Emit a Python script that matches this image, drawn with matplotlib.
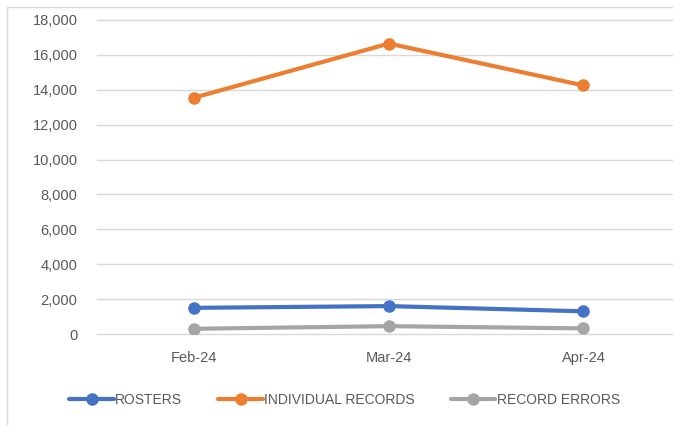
import matplotlib.pyplot as plt
from matplotlib.patches import Rectangle

months = ["Feb-24", "Mar-24", "Apr-24"]
rosters = [1500, 1600, 1300]
individual_records = [13550, 16650, 14250]
record_errors = [300, 450, 320]

series = [
    ("ROSTERS", rosters, "#4472C4"),
    ("INDIVIDUAL RECORDS", individual_records, "#ED7D31"),
    ("RECORD ERRORS", record_errors, "#A5A5A5"),
]

plt.rcParams["font.family"] = ["Liberation Sans", "DejaVu Sans"]
text_color = "#595959"

fig = plt.figure(figsize=(6.73, 4.25), dpi=100)
# chart frame (left and top edges visible, rest cropped)
fig.patches.append(Rectangle((7 / 673, -0.1), 1.2, 1 - 7 / 425 + 0.1,
                             transform=fig.transFigure, fill=False,
                             edgecolor="#D9D9D9", linewidth=1.0))

ax = fig.add_axes([97 / 673, 1 - 334 / 425, 1 - 97 / 673, (334 - 20) / 425])

x = range(len(months))
for label, values, color in series:
    ax.plot(x, values, color=color, linewidth=3, marker="o", markersize=8,
            label=label, solid_capstyle="round")

ax.set_ylim(0, 18000)
ax.set_yticks(range(0, 18001, 2000))
ax.set_yticklabels([f"{v:,}" for v in range(0, 18001, 2000)])
ax.set_xlim(-0.5, 2.46)
ax.set_xticks(list(x))
ax.set_xticklabels(months)

ax.grid(axis="y", color="#D9D9D9", linewidth=1)
for gl in ax.get_ygridlines():
    gl.set_clip_on(False)
ax.set_axisbelow(True)
for s in ax.spines.values():
    s.set_visible(False)
ax.tick_params(axis="both", length=0, colors=text_color, labelsize=10.5)
ax.tick_params(axis="y", pad=14)
ax.tick_params(axis="x", pad=12)

leg = ax.legend(loc="center", bbox_to_anchor=(0.5 - 0.07, -0.21), ncol=3,
                frameon=False, fontsize=10, handlelength=3.2,
                columnspacing=2.6, handletextpad=0.1)
for t in leg.get_texts():
    t.set_color(text_color)

fig.savefig("out.png", dpi=100)
